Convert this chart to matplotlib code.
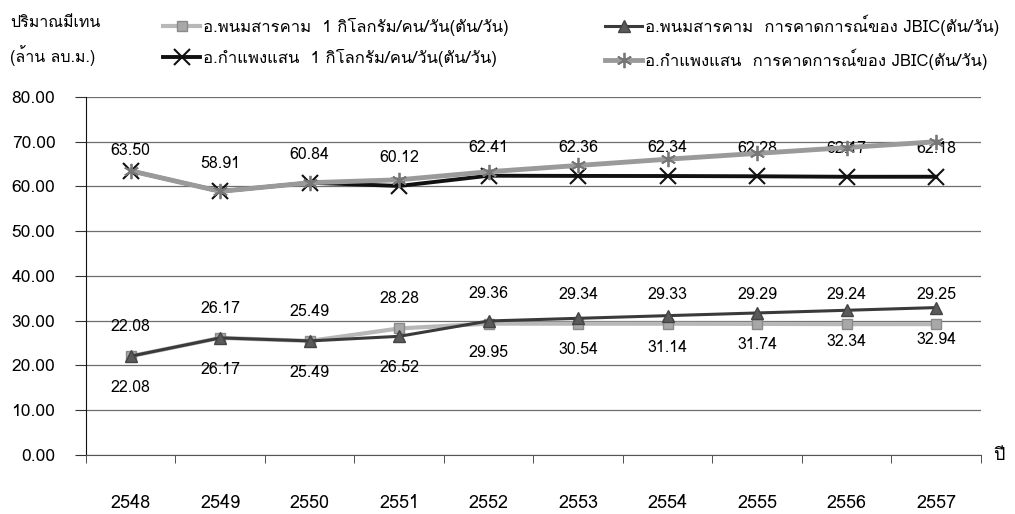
import matplotlib
matplotlib.use("Agg")
import matplotlib.pyplot as plt
import matplotlib.font_manager as fm
from matplotlib.ft2font import FT2Font

# pick an installed font that has Thai glyphs (fallback DejaVu Sans)
thai_font = None
for f in fm.fontManager.ttflist:
    try:
        if 0x0E1B in FT2Font(f.fname).get_charmap():
            thai_font = f.name
            break
    except Exception:
        pass
families = [thai_font, "Liberation Sans", "DejaVu Sans"] if thai_font else ["Liberation Sans", "DejaVu Sans"]
plt.rcParams["font.family"] = families

# data
years = ["2548", "2549", "2550", "2551", "2552", "2553", "2554", "2555", "2556", "2557"]
phanom_1kg = [22.08, 26.17, 25.49, 28.28, 29.36, 29.34, 29.33, 29.29, 29.24, 29.25]
phanom_jbic = [22.08, 26.17, 25.49, 26.52, 29.95, 30.54, 31.14, 31.74, 32.34, 32.94]
kamphaeng_1kg = [63.50, 58.91, 60.84, 60.12, 62.41, 62.36, 62.34, 62.28, 62.17, 62.18]
kamphaeng_jbic = [63.50, 58.91, 60.84, 61.5, 63.3, 64.7, 66.1, 67.4, 68.7, 70.0]
labels = [
    "อ.พนมสารคาม  1 กิโลกรัม/คน/วัน(ตัน/วัน)",
    "อ.กำแพงแสน  1 กิโลกรัม/คน/วัน(ตัน/วัน)",
    "อ.พนมสารคาม  การคาดการณ์ของ JBIC(ตัน/วัน)",
    "อ.กำแพงแสน  การคาดการณ์ของ JBIC(ตัน/วัน)",
]
yticks = [0, 10, 20, 30, 40, 50, 60, 70, 80]

fig = plt.figure(figsize=(10.15, 5.14), dpi=100)
ax = fig.add_axes([0.0847, 0.1148, 0.8818, 0.6965])

x = list(range(len(years)))

for v in yticks:
    ax.axhline(v, color="#6f6f6f", lw=0.9, zorder=0)

l1, = ax.plot(x, phanom_1kg, color="#b8b8b8", lw=3, marker="s", ms=7,
              mfc="#a8a8a8", mec="#8a8a8a", zorder=3)
l3, = ax.plot(x, phanom_jbic, color="#3a3a3a", lw=2.2, marker="^", ms=9,
              mfc="#5a5a5a", mec="#444444", zorder=4)
l4, = ax.plot(x, kamphaeng_jbic, color="#9a9a9a", lw=3.5, marker=(6, 2, 0), ms=11,
              mec="#777777", mew=1.3, zorder=4)
l2, = ax.plot(x, kamphaeng_1kg, color="#111111", lw=2.8, marker="x", ms=11,
              mec="#111111", mew=1.5, zorder=3)

# data labels
for i in x:
    ax.annotate(f"{phanom_1kg[i]:.2f}", (i, phanom_1kg[i]), xytext=(0, 21),
                textcoords="offset points", ha="center", va="center", fontsize=11.5)
    ax.annotate(f"{phanom_jbic[i]:.2f}", (i, phanom_jbic[i]), xytext=(0, -23),
                textcoords="offset points", ha="center", va="center", fontsize=11.5)
    off = 14 if i == 0 else 20
    ax.annotate(f"{kamphaeng_1kg[i]:.2f}", (i, kamphaeng_1kg[i]), xytext=(0, off),
                textcoords="offset points", ha="center", va="center", fontsize=11.5)

ax.set_xlim(-0.5, len(years) - 0.5)
ax.set_ylim(0, 80)
ax.set_yticks(yticks)
ax.set_yticklabels([f"{v:.2f}" for v in yticks], fontsize=12.5)
ax.set_xticks(x)
ax.set_xticklabels(years, fontsize=13)
ax.tick_params(axis="x", length=0, pad=28)
ax.set_xticks([i - 0.5 for i in range(len(years) + 1)], minor=True)
ax.tick_params(axis="x", which="minor", length=6, direction="out", color="#333333")
ax.tick_params(axis="y", length=8, color="#333333", pad=14)

for s in ["top", "right"]:
    ax.spines[s].set_visible(False)
ax.spines["left"].set_color("#111111")
ax.spines["bottom"].set_color("#555555")

fig.text(0.978, 0.115, "ปี", fontsize=13, ha="left", va="center")
fig.text(0.01, 0.955, "ปริมาณมีเทน", fontsize=11.5, ha="left", va="center")
fig.text(0.01, 0.892, "(ล้าน ลบ.ม.)", fontsize=11.5, ha="left", va="center")

fig.legend([l1, l2, l3, l4], labels, loc="upper left", bbox_to_anchor=(0.146, 1.0),
           ncol=2, frameon=False, fontsize=12, handlelength=2.2, handletextpad=0.2,
           labelspacing=0.75, columnspacing=5.8)

fig.savefig("out.png", dpi=100)
